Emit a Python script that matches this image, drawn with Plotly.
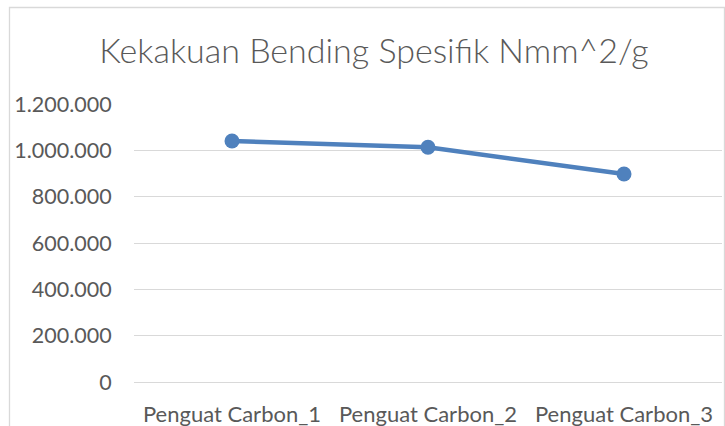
import plotly.graph_objects as go

categories = ["Penguat Carbon_1", "Penguat Carbon_2", "Penguat Carbon_3"]
values = [1040000, 1013000, 898000]
y_ticks = [0, 200000, 400000, 600000, 800000, 1000000, 1200000]

W, H = 725, 426
L, R, T, B = 134, 3, 104, 44
pw, ph = W - L - R, H - T - B

def px_x(p):
    return (p - L) / pw

def px_y(p):
    return (H - B - p) / ph

FONT = "Lato"
GREY = "#595959"
GRID = "#d9d9d9"

fig = go.Figure()
fig.add_trace(go.Scatter(
    x=categories, y=values, mode="lines+markers",
    line=dict(color="#4F81BD", width=4.5),
    marker=dict(color="#4F81BD", size=15),
    showlegend=False,
))

fig.update_layout(
    width=W, height=H,
    margin=dict(l=L, r=R, t=T, b=B, autoexpand=False),
    paper_bgcolor="white", plot_bgcolor="white",
    separators=",.",
    title=dict(text="Kekakuan Bending Spesifik Nmm^2/g",
               font=dict(family=FONT, size=34, color=GREY, weight=300),
               x=374 / W, xanchor="center",
               y=1 - 51 / H, yanchor="middle", yref="container"),
    xaxis=dict(type="category", range=[-0.5, 2.5], showgrid=False,
               showline=True, linecolor=GRID, linewidth=1, automargin=False,
               ticks="outside", ticklen=13, tickcolor="rgba(0,0,0,0)",
               tickfont=dict(family=FONT, size=22, color=GREY)),
    yaxis=dict(range=[0, 1200000], tickvals=y_ticks, tickformat=",d",
               showgrid=True, gridcolor=GRID, gridwidth=1, zeroline=False,
               automargin=False,
               ticks="outside", ticklen=17, tickcolor="rgba(0,0,0,0)",
               tickfont=dict(family=FONT, size=21.5, color=GREY)),
    shapes=[dict(type="rect", xref="paper", yref="paper",
                 x0=px_x(9.5), x1=px_x(724.5), y0=px_y(440), y1=px_y(7.5),
                 line=dict(color=GRID, width=1.3), fillcolor="rgba(0,0,0,0)",
                 layer="below")],
)

fig.write_html("out.html",
               config={"displayModeBar": False},
               post_script="document.body.style.margin='0';document.body.style.overflow='hidden';")
